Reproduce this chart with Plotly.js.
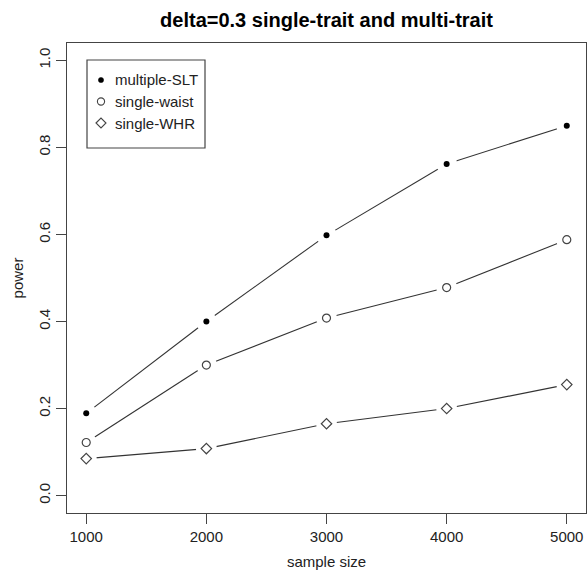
<!DOCTYPE html>
<html>
<head>
<meta charset="utf-8">
<script src="https://cdn.plot.ly/plotly-3.0.1.min.js"></script>
<style>html,body{margin:0;padding:0;background:#fff;}#chart{width:588px;height:573px;}</style>
</head>
<body>
<div id="chart"></div>
<script>
const sampleSize = [1000, 2000, 3000, 4000, 5000];
const multipleSLT = [0.189, 0.400, 0.598, 0.762, 0.850];
const singleWaist = [0.122, 0.300, 0.408, 0.478, 0.588];
const singleWHR = [0.085, 0.108, 0.165, 0.200, 0.255];
const seriesNames = ['multiple-SLT', 'single-waist', 'single-WHR'];
const xTicks = [1000, 2000, 3000, 4000, 5000];
const yTicks = [0.0, 0.2, 0.4, 0.6, 0.8, 1.0];

const font = 'Liberation Sans, Arial, sans-serif';
const lineCol = '#333';
const series = [multipleSLT, singleWaist, singleWHR];
const symbols = [
  {symbol: 'circle', size: 6, color: '#000', lw: 0},
  {symbol: 'circle-open', size: 8, color: '#444', lw: 1.2},
  {symbol: 'diamond-open', size: 8, color: '#444', lw: 1.2}
];
const shapes = [];
// connecting segments (data coordinates, drawn beneath the traces)
series.forEach((ys) => {
  for (let i = 0; i < sampleSize.length - 1; i++) {
    shapes.push({type: 'line', xref: 'x', yref: 'y', layer: 'below',
      x0: sampleSize[i], y0: ys[i], x1: sampleSize[i + 1], y1: ys[i + 1],
      line: {color: lineCol, width: 1.1}});
  }
});
const traces = [];
// opaque white halos give the R type="b" gaps around the points
series.forEach((ys) => {
  traces.push({x: sampleSize, y: ys, mode: 'markers', opacity: 1,
    marker: {symbol: 'circle', size: 21, color: 'rgb(255,255,255)', opacity: 1, line: {width: 0}}, showlegend: false, hoverinfo: 'skip'});
});
series.forEach((ys, i) => {
  const s = symbols[i];
  traces.push({x: sampleSize, y: ys, mode: 'markers', name: seriesNames[i], showlegend: false, opacity: 1,
    marker: {symbol: s.symbol, size: s.size, color: s.color, opacity: 1, line: {color: s.color, width: s.lw}}});
});

// Manual legend (R-style) in pixel-based paper coordinates
const L = 67, W = 519, B = 513, H = 470;
const px = (p) => (p - L) / W;
const py = (p) => (B - p) / H;
shapes.push({type: 'rect', xref: 'paper', yref: 'paper', x0: px(87), x1: px(205), y0: py(60), y1: py(148),
  line: {color: '#444', width: 1.2}, fillcolor: 'rgba(0,0,0,0)'});
const annotations = [];
const rowY = [80, 101.5, 123];
seriesNames.forEach((name, i) => {
  const cy = py(rowY[i]);
  const cx = px(101);
  if (i === 0) {
    shapes.push({type: 'circle', xref: 'paper', yref: 'paper', xsizemode: 'pixel', ysizemode: 'pixel', xanchor: cx, yanchor: cy,
      x0: -2.6, x1: 2.6, y0: -2.6, y1: 2.6, fillcolor: '#000', line: {color: '#000', width: 0.5}});
  } else if (i === 1) {
    shapes.push({type: 'circle', xref: 'paper', yref: 'paper', xsizemode: 'pixel', ysizemode: 'pixel', xanchor: cx, yanchor: cy,
      x0: -3.6, x1: 3.6, y0: -3.6, y1: 3.6, fillcolor: 'rgba(0,0,0,0)', line: {color: '#444', width: 1.1}});
  } else {
    shapes.push({type: 'path', xref: 'paper', yref: 'paper', xsizemode: 'pixel', ysizemode: 'pixel', xanchor: cx, yanchor: cy,
      path: 'M-5,0 L0,5 L5,0 L0,-5 Z', fillcolor: 'rgba(0,0,0,0)', line: {color: '#444', width: 1.1}});
  }
  annotations.push({xref: 'paper', yref: 'paper', x: px(113), y: cy, xanchor: 'left', yanchor: 'middle', showarrow: false,
    text: name, font: {family: font, size: 15, color: '#222'}});
});

const layout = {
  width: 588, height: 573,
  margin: {l: 67, r: 2, t: 43, b: 60, pad: 0},
  paper_bgcolor: '#fff', plot_bgcolor: '#fff',
  font: {family: font, size: 15, color: '#222'},
  title: {text: 'delta=0.3 single-trait and multi-trait', font: {family: font, size: 20, color: '#000', weight: 'bold'},
    x: 0.5, xref: 'paper', y: 1 - 20/573, yref: 'container', yanchor: 'middle'},
  xaxis: {range: [840, 5160], tickvals: xTicks, ticktext: xTicks.map(String), ticks: 'outside', ticklen: 10, tickwidth: 1, tickcolor: '#444',
    showline: true, mirror: true, linecolor: '#444', linewidth: 1.3, showgrid: false, zeroline: false,
    tickfont: {size: 15, color: '#222'}, title: {text: 'sample size', font: {size: 15, color: '#222'}, standoff: 12}},
  yaxis: {range: [-0.04, 1.04], tickvals: yTicks, ticktext: yTicks.map(v => v.toFixed(1)), ticks: 'outside', ticklen: 10, tickwidth: 1, tickcolor: '#444',
    tickangle: -90, showline: true, mirror: true, linecolor: '#444', linewidth: 1.3, showgrid: false, zeroline: false,
    tickfont: {size: 15, color: '#222'}, title: {text: 'power', font: {size: 15, color: '#222'}, standoff: 8}},
  shapes: shapes,
  annotations: annotations,
  showlegend: false
};
Plotly.newPlot('chart', traces, layout, {displayModeBar: false, staticPlot: true});
</script>
</body>
</html>
